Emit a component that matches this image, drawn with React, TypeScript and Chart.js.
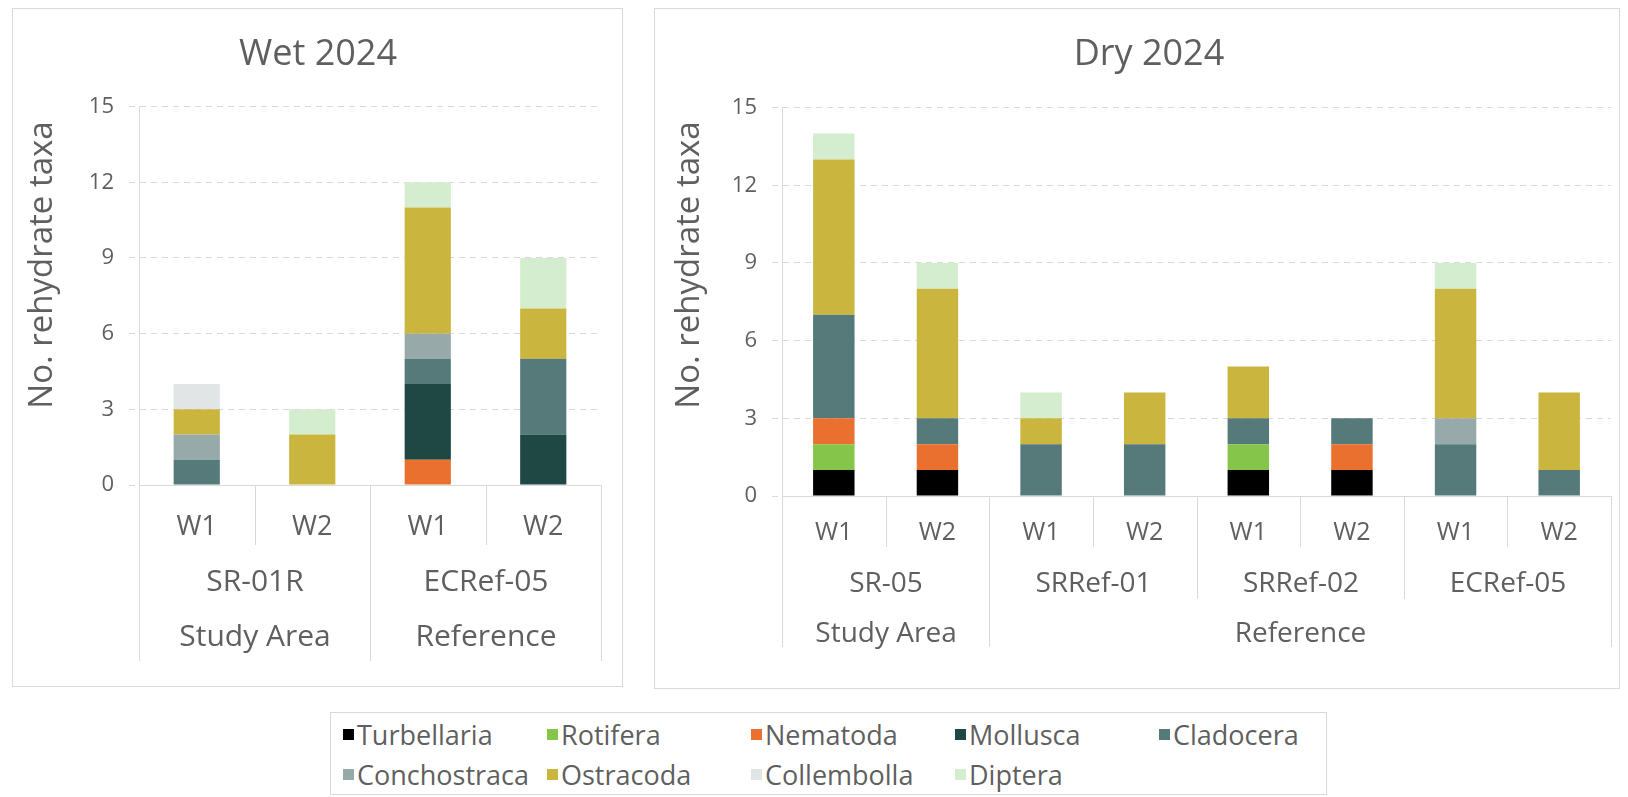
import React, { useEffect, useRef } from "react";
import { Chart, registerables } from "chart.js";

Chart.register(...registerables);

const FONT = "'Open Sans', 'Noto Sans', sans-serif";
const TEXT = "#5f5f5f";
const LINE = "#d9d9d9";

const TAXA = ["Turbellaria", "Rotifera", "Nematoda", "Mollusca", "Cladocera", "Conchostraca", "Ostracoda", "Collembolla", "Diptera"];
const TAXA_COLORS = ["#000000", "#84c54a", "#e9702f", "#1f4845", "#567a7a", "#97a9a8", "#cab63e", "#e2e5e5", "#d4edcf"];

const Y_TICKS = [0, 3, 6, 9, 12, 15];
const Y_TITLE = "No. rehydrate taxa";

// Wet 2024
const WET_TITLE = "Wet 2024";
const WET_WEEKS = ["W1", "W2", "W1", "W2"];
const WET_SITES = ["SR-01R", "ECRef-05"];
const WET_SITE_SPANS = [2, 2];
const WET_AREAS = ["Study Area", "Reference"];
const WET_AREA_SPANS = [2, 2];
const WET_TURBELLARIA = [0, 0, 0, 0];
const WET_ROTIFERA = [0, 0, 0, 0];
const WET_NEMATODA = [0, 0, 1, 0];
const WET_MOLLUSCA = [0, 0, 3, 2];
const WET_CLADOCERA = [1, 0, 1, 3];
const WET_CONCHOSTRACA = [1, 0, 1, 0];
const WET_OSTRACODA = [1, 2, 5, 2];
const WET_COLLEMBOLLA = [1, 0, 0, 0];
const WET_DIPTERA = [0, 1, 1, 2];

// Dry 2024
const DRY_TITLE = "Dry 2024";
const DRY_WEEKS = ["W1", "W2", "W1", "W2", "W1", "W2", "W1", "W2"];
const DRY_SITES = ["SR-05", "SRRef-01", "SRRef-02", "ECRef-05"];
const DRY_SITE_SPANS = [2, 2, 2, 2];
const DRY_AREAS = ["Study Area", "Reference"];
const DRY_AREA_SPANS = [2, 6];
const DRY_TURBELLARIA = [1, 1, 0, 0, 1, 1, 0, 0];
const DRY_ROTIFERA = [1, 0, 0, 0, 1, 0, 0, 0];
const DRY_NEMATODA = [1, 1, 0, 0, 0, 1, 0, 0];
const DRY_MOLLUSCA = [0, 0, 0, 0, 0, 0, 0, 0];
const DRY_CLADOCERA = [4, 1, 2, 2, 1, 1, 2, 1];
const DRY_CONCHOSTRACA = [0, 0, 0, 0, 0, 0, 1, 0];
const DRY_OSTRACODA = [6, 5, 1, 2, 2, 0, 5, 3];
const DRY_COLLEMBOLLA = [0, 0, 0, 0, 0, 0, 0, 0];
const DRY_DIPTERA = [1, 1, 1, 0, 0, 0, 1, 0];

const WET_SERIES = [WET_TURBELLARIA, WET_ROTIFERA, WET_NEMATODA, WET_MOLLUSCA, WET_CLADOCERA, WET_CONCHOSTRACA, WET_OSTRACODA, WET_COLLEMBOLLA, WET_DIPTERA];
const DRY_SERIES = [DRY_TURBELLARIA, DRY_ROTIFERA, DRY_NEMATODA, DRY_MOLLUSCA, DRY_CLADOCERA, DRY_CONCHOSTRACA, DRY_OSTRACODA, DRY_COLLEMBOLLA, DRY_DIPTERA];

const cumulative = (spans: number[]) => {
  const out = [0];
  spans.forEach((s) => out.push(out[out.length - 1] + s));
  return out;
};

const multiLevelPlugin = {
  id: "multiLevel",
  afterDraw(chart: any, _args: any, o: any) {
    const { ctx, chartArea } = chart;
    const xs = chart.scales.x;
    const n = chart.data.labels.length;
    const bx = (b: number) => Math.round(xs.getPixelForValue(b - 0.5)) + 0.5;
    const siteB = cumulative(o.siteSpans);
    const areaB = cumulative(o.areaSpans);
    const bottom = chartArea.bottom;
    ctx.save();
    ctx.strokeStyle = LINE;
    ctx.lineWidth = 1;
    for (let b = 0; b <= n; b++) {
      let end = bottom + o.weekLineEnd;
      if (areaB.includes(b)) end = bottom + o.areaLineEnd;
      else if (siteB.includes(b)) end = bottom + o.siteLineEnd;
      ctx.beginPath();
      ctx.moveTo(bx(b), bottom);
      ctx.lineTo(bx(b), end);
      ctx.stroke();
    }
    ctx.fillStyle = TEXT;
    ctx.textAlign = "center";
    ctx.textBaseline = "middle";
    ctx.font = `${o.groupSize}px ${FONT}`;
    o.sites.forEach((lab: string, i: number) => {
      const cx = (bx(siteB[i]) + bx(siteB[i + 1])) / 2;
      ctx.fillText(lab, cx, bottom + o.siteY);
    });
    o.areas.forEach((lab: string, i: number) => {
      const cx = (bx(areaB[i]) + bx(areaB[i + 1])) / 2;
      ctx.fillText(lab, cx, bottom + o.areaY);
    });
    ctx.translate(o.yTitleX, o.yTitleY);
    ctx.rotate(-Math.PI / 2);
    ctx.font = `${o.yTitleSize}px ${FONT}`;
    ctx.fillText(Y_TITLE, 0, 0);
    ctx.restore();
  },
};

type PanelProps = {
  left: number;
  top: number;
  width: number;
  height: number;
  title: string;
  weeks: string[];
  sites: string[];
  siteSpans: number[];
  areas: string[];
  areaSpans: number[];
  series: number[][];
  lay: any;
};

function Panel(p: PanelProps) {
  const ref = useRef<HTMLCanvasElement | null>(null);
  useEffect(() => {
    if (!ref.current) return;
    const L = p.lay;
    const chart = new Chart(ref.current, {
      type: "bar",
      data: {
        labels: p.weeks,
        datasets: TAXA.map((name, i) => ({
          label: name,
          data: p.series[i],
          backgroundColor: TAXA_COLORS[i],
          borderWidth: 0,
          barPercentage: 0.4,
          categoryPercentage: 1,
        })),
      },
      options: {
        responsive: false,
        animation: false,
        devicePixelRatio: 1,
        layout: { padding: { left: L.padLeft, right: L.padRight, top: 0, bottom: 0 } },
        plugins: {
          legend: { display: false },
          tooltip: { enabled: false },
          title: {
            display: true,
            text: p.title,
            color: TEXT,
            font: { family: FONT, size: 36, weight: "normal" },
            padding: { top: 25, bottom: L.titleBottom },
          },
          multiLevel: {
            sites: p.sites,
            siteSpans: p.siteSpans,
            areas: p.areas,
            areaSpans: p.areaSpans,
            weekLineEnd: L.weekLineEnd,
            siteLineEnd: L.siteLineEnd,
            areaLineEnd: L.areaLineEnd,
            siteY: L.siteY,
            areaY: L.areaY,
            groupSize: L.groupSize,
            yTitleX: L.yTitleX,
            yTitleY: L.yTitleY,
            yTitleSize: 33,
          },
        } as any,
        scales: {
          x: {
            stacked: true,
            grid: { display: false, drawTicks: false },
            border: { display: true, color: LINE },
            ticks: {
              color: TEXT,
              font: { family: FONT, size: L.weekSize },
              padding: L.weekPad,
              maxRotation: 0,
              autoSkip: false,
            },
            afterFit: (s: any) => {
              s.height = L.xHeight;
            },
          },
          y: {
            stacked: true,
            min: Y_TICKS[0],
            max: Y_TICKS[Y_TICKS.length - 1],
            afterBuildTicks: (s: any) => {
              s.ticks = Y_TICKS.map((v) => ({ value: v }));
            },
            ticks: { color: TEXT, font: { family: FONT, size: 22 }, padding: 15 },
            grid: { color: LINE, tickLength: 10, tickColor: LINE, tickBorderDash: [6, 5], drawTicks: true },
            border: { display: true, color: LINE, dash: [6, 5] },
            afterFit: (s: any) => {
              s.width = L.yWidth;
            },
          },
        } as any,
      },
      plugins: [multiLevelPlugin],
    } as any);
    return () => chart.destroy();
  }, []);
  return (
    <>
      <div
        style={{
          position: "absolute",
          left: p.left,
          top: p.top,
          width: p.width,
          height: p.height,
          border: `1px solid ${LINE}`,
          boxSizing: "border-box",
        }}
      />
      <canvas
        ref={ref}
        width={p.width}
        height={p.height}
        style={{ position: "absolute", left: p.left, top: p.top, width: p.width, height: p.height }}
      />
    </>
  );
}

const WET_LAYOUT = {
  padLeft: 23,
  padRight: 22,
  yWidth: 104,
  titleBottom: 30.4,
  xHeight: 202,
  weekSize: 27,
  weekPad: 26,
  groupSize: 30,
  weekLineEnd: 60,
  siteLineEnd: 115,
  areaLineEnd: 176,
  siteY: 97,
  areaY: 152,
  yTitleX: 31,
  yTitleY: 257,
};

const DRY_LAYOUT = {
  padLeft: 33,
  padRight: 9,
  yWidth: 95,
  titleBottom: 31.4,
  xHeight: 193,
  weekSize: 25,
  weekPad: 22,
  groupSize: 28,
  weekLineEnd: 51,
  siteLineEnd: 103,
  areaLineEnd: 151,
  siteY: 88,
  areaY: 138,
  yTitleX: 36,
  yTitleY: 257,
};

const LEGEND_COLS = 5;

function Legend() {
  return (
    <div
      style={{
        position: "absolute",
        left: 330,
        top: 712,
        width: 997,
        height: 83,
        border: `1px solid ${LINE}`,
        boxSizing: "border-box",
        paddingLeft: 12,
        paddingTop: 1,
        display: "grid",
        gridTemplateColumns: `repeat(${LEGEND_COLS}, 204px)`,
        gridAutoRows: "40px",
        fontFamily: FONT,
        fontSize: 27,
        color: TEXT,
      }}
    >
      {TAXA.map((name, i) => (
        <div key={name} style={{ display: "flex", alignItems: "center", whiteSpace: "nowrap" }}>
          <span
            style={{
              display: "inline-block",
              width: 11,
              height: 11,
              background: TAXA_COLORS[i],
              marginRight: 3,
            }}
          />
          <span>{name}</span>
        </div>
      ))}
    </div>
  );
}

export default function App() {
  return (
    <div style={{ position: "fixed", left: 0, top: 0, width: 1628, height: 797, background: "#fff", overflow: "hidden" }}>
      <Panel
        left={12}
        top={8}
        width={611}
        height={679}
        title={WET_TITLE}
        weeks={WET_WEEKS}
        sites={WET_SITES}
        siteSpans={WET_SITE_SPANS}
        areas={WET_AREAS}
        areaSpans={WET_AREA_SPANS}
        series={WET_SERIES}
        lay={WET_LAYOUT}
      />
      <Panel
        left={654}
        top={8}
        width={966}
        height={681}
        title={DRY_TITLE}
        weeks={DRY_WEEKS}
        sites={DRY_SITES}
        siteSpans={DRY_SITE_SPANS}
        areas={DRY_AREAS}
        areaSpans={DRY_AREA_SPANS}
        series={DRY_SERIES}
        lay={DRY_LAYOUT}
      />
      <Legend />
    </div>
  );
}
